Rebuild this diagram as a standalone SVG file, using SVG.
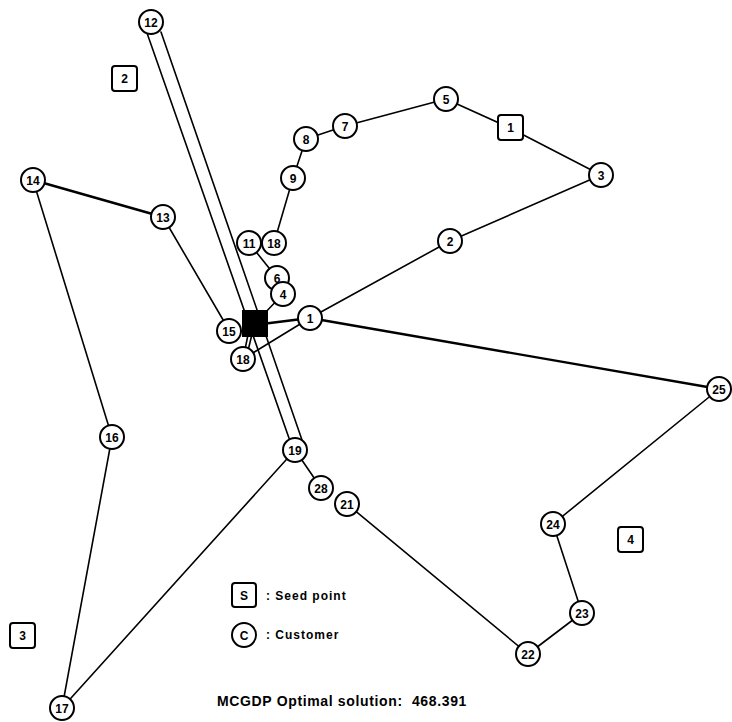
<svg xmlns="http://www.w3.org/2000/svg" width="732" height="722" viewBox="0 0 732 722">
<style>
.e{stroke:#000;stroke-width:1.6;fill:none;stroke-linecap:round}
.t{stroke-width:2.4}
.c{fill:#fff;stroke:#000;stroke-width:2}
.s{fill:#fff;stroke:#000;stroke-width:2}
.l{font-family:"Liberation Sans",Arial,sans-serif;font-weight:bold;font-size:12px;text-anchor:middle;fill:#000}
.g{font-family:"Liberation Sans",Arial,sans-serif;font-weight:bold;font-size:12px;letter-spacing:1px;fill:#000}
.h{font-family:"Liberation Sans",Arial,sans-serif;font-weight:bold;font-size:14px;letter-spacing:0.65px;fill:#000}
</style>
<rect width="732" height="722" fill="#fff"/>
<g id="connectors">
<line class="e" x1="147" y1="33" x2="290" y2="441"/>
<line class="e" x1="161" y1="32" x2="302" y2="440"/>
<line class="e t" x1="33" y1="180" x2="163" y2="217"/>
<line class="e" x1="33" y1="180" x2="112" y2="437"/>
<line class="e" x1="112" y1="437" x2="62" y2="708"/>
<line class="e" x1="62" y1="708" x2="295" y2="450"/>
<line class="e" x1="163" y1="217" x2="229" y2="330"/>
<line class="e" x1="295" y1="450" x2="321" y2="488"/>
<line class="e" x1="347" y1="504" x2="528" y2="654"/>
<line class="e" x1="528" y1="654" x2="582" y2="613"/>
<line class="e" x1="582" y1="613" x2="553" y2="524"/>
<line class="e" x1="553" y1="524" x2="719" y2="389"/>
<line class="e t" x1="719" y1="389" x2="310" y2="318"/>
<line class="e t" x1="310" y1="318" x2="262" y2="324"/>
<line class="e" x1="310" y1="318" x2="450" y2="241"/>
<line class="e" x1="450" y1="241" x2="601" y2="175"/>
<line class="e" x1="601" y1="175" x2="510" y2="128"/>
<line class="e" x1="510" y1="128" x2="446" y2="99"/>
<line class="e" x1="446" y1="99" x2="345" y2="126"/>
<line class="e" x1="345" y1="126" x2="306" y2="139"/>
<line class="e" x1="306" y1="139" x2="293" y2="178"/>
<line class="e" x1="293" y1="178" x2="274" y2="243"/>
<line class="e" x1="249" y1="243" x2="277" y2="278"/>
<line class="e" x1="283" y1="294" x2="262" y2="316"/>
<line class="e" x1="243" y1="359" x2="310" y2="318"/>
<line class="e" x1="243" y1="359" x2="249" y2="330"/>
<line class="e" x1="246" y1="359" x2="253" y2="330"/>
</g>
<g id="depot"><rect x="242" y="310" width="26" height="27" fill="#000"/></g>
<g id="seed1"><rect class="s" x="498" y="115" width="25" height="25" rx="3"/><text class="l" x="510.5" y="132">1</text></g>
<g id="seed2"><rect class="s" x="112" y="66" width="25" height="25" rx="3"/><text class="l" x="124.5" y="83">2</text></g>
<g id="seed3"><rect class="s" x="10" y="623" width="25" height="25" rx="3"/><text class="l" x="22.5" y="640">3</text></g>
<g id="seed4"><rect class="s" x="618" y="527" width="25" height="25" rx="3"/><text class="l" x="630.5" y="544">4</text></g>
<g id="n12"><circle class="c" cx="151" cy="22" r="12"/><text class="l" x="151" y="26.5">12</text></g>
<g id="n14"><circle class="c" cx="33" cy="180" r="12"/><text class="l" x="33" y="184.5">14</text></g>
<g id="n13"><circle class="c" cx="163" cy="217" r="12"/><text class="l" x="163" y="221.5">13</text></g>
<g id="n5"><circle class="c" cx="446" cy="99" r="12"/><text class="l" x="446" y="103.5">5</text></g>
<g id="n7"><circle class="c" cx="345" cy="126" r="12"/><text class="l" x="345" y="130.5">7</text></g>
<g id="n8"><circle class="c" cx="306" cy="139" r="12"/><text class="l" x="306" y="143.5">8</text></g>
<g id="n9"><circle class="c" cx="293" cy="178" r="12"/><text class="l" x="293" y="182.5">9</text></g>
<g id="n3"><circle class="c" cx="601" cy="175" r="12"/><text class="l" x="601" y="179.5">3</text></g>
<g id="n2"><circle class="c" cx="450" cy="241" r="12"/><text class="l" x="450" y="245.5">2</text></g>
<g id="n11"><circle class="c" cx="249" cy="243" r="12"/><text class="l" x="249" y="247.5">11</text></g>
<g id="n18a"><circle class="c" cx="274" cy="243" r="12"/><text class="l" x="274" y="247.5">18</text></g>
<g id="n6"><circle class="c" cx="277" cy="278" r="12"/><text class="l" x="277" y="282.5">6</text></g>
<g id="n4"><circle class="c" cx="283" cy="294" r="12"/><text class="l" x="283" y="298.5">4</text></g>
<g id="n1"><circle class="c" cx="310" cy="318" r="12"/><text class="l" x="310" y="322.5">1</text></g>
<g id="n15"><circle class="c" cx="229" cy="331" r="12"/><text class="l" x="229" y="335.5">15</text></g>
<g id="n18b"><circle class="c" cx="243" cy="359" r="12"/><text class="l" x="243" y="363.5">18</text></g>
<g id="n25"><circle class="c" cx="719" cy="389" r="12"/><text class="l" x="719" y="393.5">25</text></g>
<g id="n16"><circle class="c" cx="112" cy="437" r="12"/><text class="l" x="112" y="441.5">16</text></g>
<g id="n19"><circle class="c" cx="295" cy="450" r="12"/><text class="l" x="295" y="454.5">19</text></g>
<g id="n28"><circle class="c" cx="321" cy="488" r="12"/><text class="l" x="321" y="492.5">28</text></g>
<g id="n21"><circle class="c" cx="347" cy="504" r="12"/><text class="l" x="347" y="508.5">21</text></g>
<g id="n24"><circle class="c" cx="553" cy="524" r="12"/><text class="l" x="553" y="528.5">24</text></g>
<g id="n23"><circle class="c" cx="582" cy="613" r="12"/><text class="l" x="582" y="617.5">23</text></g>
<g id="n22"><circle class="c" cx="528" cy="654" r="12"/><text class="l" x="528" y="658.5">22</text></g>
<g id="n17"><circle class="c" cx="62" cy="708" r="12"/><text class="l" x="62" y="712.5">17</text></g>
<g id="legend">
<rect class="s" x="232" y="583" width="24" height="24" rx="3"/><text class="l" x="244" y="599.5">S</text>
<text class="g" x="266" y="600">: Seed point</text>
<circle class="c" cx="244" cy="635" r="12"/><text class="l" x="244" y="639.5">C</text>
<text class="g" x="266" y="639">: Customer</text>
</g>
<text id="title" class="h" x="217" y="706" xml:space="preserve">MCGDP Optimal solution:  468.391</text>
</svg>
